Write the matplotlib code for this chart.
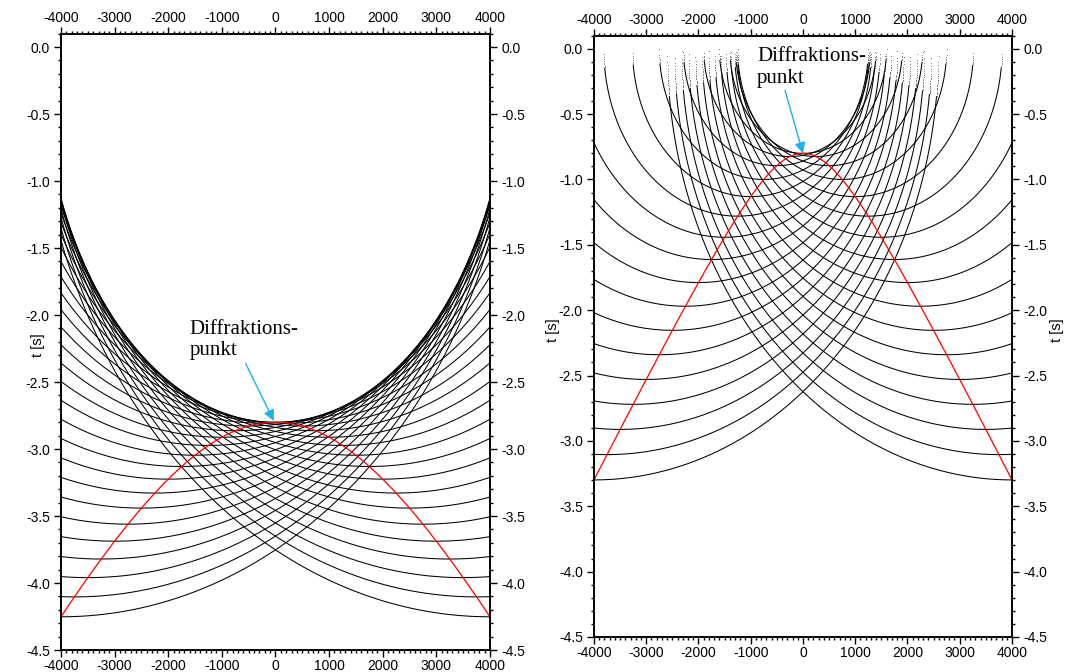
import numpy as np
import matplotlib.pyplot as plt
from matplotlib.ticker import MultipleLocator, FormatStrFormatter

# ====== DATA ======
V_HYP = 2500.0          # Geschwindigkeit der Diffraktionshyperbel (m/s)
V_MIG = 4000.0          # Geschwindigkeit der Halbkreise (m/s)
T0_LEFT = 2.8           # Diffraktionspunkt links (s)
T0_RIGHT = 0.8          # Diffraktionspunkt rechts (s)
X_CENTERS = [-4000, -3750, -3500, -3250, -3000, -2750, -2500, -2250, -2000,
             -1750, -1500, -1250, -1000, -750, -500, -250, 0, 250, 500, 750,
             1000, 1250, 1500, 1750, 2000, 2250, 2500, 2750, 3000, 3250,
             3500, 3750, 4000]
X_TICKS = [-4000, -3000, -2000, -1000, 0, 1000, 2000, 3000, 4000]
ANNOT = "Diffraktions-\npunkt"

plt.rcParams['axes.unicode_minus'] = False
plt.rcParams['font.family'] = ['Liberation Sans', 'DejaVu Sans']

fig = plt.figure(figsize=(10.66, 6.72), dpi=100)
ax_l = fig.add_axes([0.0572, 0.0327, 0.4024, 0.9173])
ax_r = fig.add_axes([0.5572, 0.0521, 0.3921, 0.8948])

x = np.arange(-4000, 4000.1, 2.0)


def draw_panel(ax, t0):
    w = V_MIG / 2.0
    for xc in X_CENTERS:
        tc = np.sqrt(t0**2 + (2.0 * xc / V_HYP)**2)
        arg = tc**2 - ((x - xc) / w)**2
        ok = arg >= 0
        xs = x[ok]
        ts = -np.sqrt(arg[ok])
        # steile Enden nur als Punkte (wie Stichproben)
        dt = np.abs(np.gradient(ts)) if len(ts) > 2 else np.zeros_like(ts)
        steep = dt > 0.009
        tl = ts.copy()
        tl[steep] = np.nan
        ax.plot(xs, tl, color='black', lw=0.75)
        ax.scatter(xs[steep], ts[steep], s=0.3, color='0.3', linewidths=0)
    th = -np.sqrt(t0**2 + (2.0 * x / V_HYP)**2)
    ax.plot(x, th, color='red', lw=0.9)

    ax.set_xlim(-4000, 4000)
    ax.set_ylim(-4.5, 0.1)
    ax.set_xticks(X_TICKS)
    ax.xaxis.set_minor_locator(MultipleLocator(100))
    ax.yaxis.set_major_locator(MultipleLocator(0.5))
    ax.yaxis.set_minor_locator(MultipleLocator(0.1))
    ax.yaxis.set_major_formatter(FormatStrFormatter('%.1f'))
    ax.tick_params(which='both', direction='out', top=True, right=True,
                   labeltop=True, labelright=True, labelsize=10, width=1.0)
    ax.tick_params(which='major', length=5, pad=3)
    ax.tick_params(axis='x', which='major', pad=1.5)
    ax.tick_params(which='minor', length=2.5)
    for s in ax.spines.values():
        s.set_linewidth(1.4)


draw_panel(ax_l, T0_LEFT)
draw_panel(ax_r, T0_RIGHT)

arrow = dict(arrowstyle='-|>', color='#1DB1EE', lw=1.0, mutation_scale=16)
ax_l.annotate(ANNOT, xy=(-30, -2.79), xytext=(-1600, -2.04),
              fontsize=15, family='Liberation Serif', va='top', ha='left',
              linespacing=1.15,
              arrowprops=dict(arrow, relpos=(0.5, 0.0), shrinkA=0, shrinkB=0))
ax_r.annotate(ANNOT, xy=(0, -0.8), xytext=(-880, 0.01),
              fontsize=15, family='Liberation Serif', va='top', ha='left',
              linespacing=1.15,
              arrowprops=dict(arrow, relpos=(0.25, 0.0), shrinkA=0, shrinkB=0))

ax_l.text(-0.054, 0.495, 't [s]', rotation=90, transform=ax_l.transAxes,
          ha='center', va='center', fontsize=10.5)
ax_r.text(-0.098, 0.51, 't [s]', rotation=90, transform=ax_r.transAxes,
          ha='center', va='center', fontsize=10.5)
ax_r.text(1.108, 0.51, 't [s]', rotation=90, transform=ax_r.transAxes,
          ha='center', va='center', fontsize=10.5)

fig.savefig('out.png', dpi=100)
